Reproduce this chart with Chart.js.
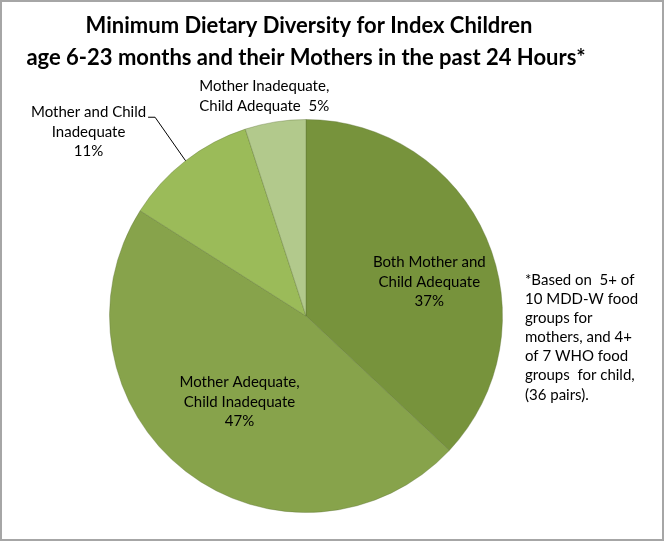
<!DOCTYPE html>
<html>
<head>
<meta charset="utf-8">
<script src="https://cdn.jsdelivr.net/npm/chart.js@4.4.0/dist/chart.umd.min.js"></script>
<style>
  html, body { margin: 0; padding: 0; background: #fff; }
  #frame {
    position: absolute; left: 0; top: 0;
    width: 664px; height: 541px;
    box-sizing: border-box;
    border: 2px solid #a6a6a6;
  }
  canvas { position: absolute; left: 0; top: 0; }
</style>
</head>
<body>
<div id="frame"></div>
<canvas id="pie" width="665" height="542"></canvas>
<script>
// data (clockwise from 12 o'clock)
const categories = [
  'Both Mother and Child Adequate',
  'Mother Adequate, Child Inadequate',
  'Mother and Child Inadequate',
  'Mother Inadequate, Child Adequate'
];
const percentages = [37, 47, 11, 5];
const sliceColors = ['#77933c', '#87a34b', '#9bbb59', '#b2c98c'];

const titleLines = [
  'Minimum Dietary Diversity for Index Children',
  'age 6-23 months and their Mothers in the past 24 Hours*'
];
const noteLines = [
  '*Based on  5+ of',
  '10 MDD-W food',
  'groups for',
  'mothers, and 4+',
  'of 7 WHO food',
  'groups  for child,',
  '(36 pairs).'
];

// how each slice label is broken into lines and where it sits
const labelLayout = [
  { lines: ['Both Mother and', 'Child Adequate', '37%'], inside: true, f: 0.645, dx: 7, dy: 16 },
  { lines: ['Mother Adequate,', 'Child Inadequate', '47%'], inside: true, f: 0.552, dx: 0, dy: 0 },
  { lines: ['Mother and Child', 'Inadequate', '11%'], inside: false, dx: -97, dy: -29, leader: true },
  { lines: ['Mother Inadequate,', 'Child Adequate  5%'], inside: false, dx: -11, dy: -26 }
];

const FONT = 'Lato, "Open Sans", sans-serif';
const LINE_H = 19.5;

const textPlugin = {
  id: 'textPlugin',
  afterDraw(chart) {
    const ctx = chart.ctx;
    ctx.save();
    ctx.fillStyle = '#000';
    ctx.textBaseline = 'middle';

    // title
    ctx.font = 'bold 22px ' + FONT;
    ctx.textAlign = 'center';
    ctx.fillText(titleLines[0], 309, 26);
    ctx.fillText(titleLines[1], 306, 58);

    // slice labels
    ctx.font = '15px ' + FONT;
    const meta = chart.getDatasetMeta(0);
    meta.data.forEach((arc, i) => {
      const lay = labelLayout[i];
      const mid = (arc.startAngle + arc.endAngle) / 2;
      const r = lay.inside ? arc.outerRadius * lay.f : arc.outerRadius;
      const ex = arc.x + Math.cos(mid) * r;
      const ey = arc.y + Math.sin(mid) * r;
      const cx = ex + lay.dx;
      const cy = ey + lay.dy;
      const n = lay.lines.length;
      lay.lines.forEach((t, k) => {
        ctx.fillText(t, cx, cy + (k - (n - 1) / 2) * LINE_H);
      });
      if (lay.leader) {
        const w = ctx.measureText(lay.lines[0]).width;
        const sx = cx + w / 2 + 2;
        const sy = cy - (n - 1) / 2 * LINE_H + 5;
        ctx.strokeStyle = '#000';
        ctx.lineWidth = 1;
        ctx.beginPath();
        ctx.moveTo(sx, sy);
        ctx.lineTo(sx + 7, sy);
        ctx.lineTo(ex, ey);
        ctx.stroke();
      }
    });

    // footnote
    ctx.textAlign = 'left';
    noteLines.forEach((t, k) => {
      ctx.fillText(t, 525, 280 + k * LINE_H * 0.98);
    });
    ctx.restore();
  }
};

new Chart(document.getElementById('pie'), {
  type: 'pie',
  data: {
    labels: categories,
    datasets: [{
      data: percentages,
      backgroundColor: sliceColors,
      borderColor: 'rgba(90,110,50,0.35)',
      borderWidth: 1
    }]
  },
  options: {
    responsive: false,
    animation: false,
    layout: { padding: { left: 109, right: 162, top: 119, bottom: 29 } },
    plugins: {
      legend: { display: false },
      tooltip: { enabled: false },
      title: { display: false }
    }
  },
  plugins: [textPlugin]
});
</script>
</body>
</html>
